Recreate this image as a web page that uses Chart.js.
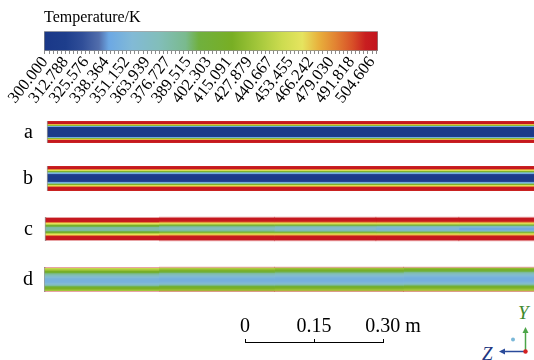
<!DOCTYPE html>
<html>
<head>
<meta charset="utf-8">
<script src="https://cdn.jsdelivr.net/npm/chart.js@4.4.1/dist/chart.umd.min.js"></script>
<style>
  html, body { margin: 0; padding: 0; background: #fff; }
  body { width: 534px; height: 360px; position: relative; overflow: hidden; }
  .box { position: absolute; }
</style>
</head>
<body>
<div class="box" style="left:0;top:0;width:534px;height:120px"><canvas id="colorbarChart"></canvas></div>
<div class="box" style="left:0;top:110px;width:534px;height:190px"><canvas id="stripChart"></canvas></div>
<div class="box" style="left:200px;top:300px;width:240px;height:60px"><canvas id="scaleChart"></canvas></div>
<svg class="box" style="left:470px;top:300px" width="64" height="60">
  <text x="48" y="19" fill="#3f8a2e" font-family="Liberation Serif, serif" font-style="italic" font-size="19">Y</text>
  <line x1="55.5" y1="52" x2="55.5" y2="32" stroke="#4ca548" stroke-width="1.5"/>
  <path d="M52.5 33 L55.5 27 L58.5 33 Z" fill="#4ca548"/>
  <text x="12" y="60" fill="#22367f" font-family="Liberation Serif, serif" font-style="italic" font-size="19">Z</text>
  <line x1="55" y1="51.5" x2="34" y2="51.5" stroke="#2a4a9a" stroke-width="1.5"/>
  <path d="M35 48.5 L29 51.5 L35 54.5 Z" fill="#2a4a9a"/>
  <circle cx="55.5" cy="51.5" r="2.2" fill="#d42020"/>
  <circle cx="43" cy="39.5" r="2" fill="#7ab8d8"/>
</svg>
<script>
const SERIF = "'Liberation Serif', 'Times New Roman', serif";

// colour legend
const tempMin = 299.4;
const tempMax = 508.35;
const tickLabels = ['300.000', '312.788', '325.576', '338.364', '351.152', '363.939', '376.727', '389.515',
  '402.303', '415.091', '427.879', '440.667', '453.455', '466.242', '479.030', '491.818', '504.606'];
const cmapTemps = [299.5, 313, 323.3, 333.8, 340, 354.6, 371.3, 388, 396.3, 417, 434, 448.5, 461, 471.4, 481.9, 492.3, 500.6, 508.2];
const cmapColors = [
  [26, 56, 136], [30, 62, 140], [48, 78, 152], [82, 110, 172], [108, 168, 228], [130, 186, 214],
  [130, 190, 186], [122, 186, 142], [112, 176, 62], [120, 174, 36], [165, 200, 60], [205, 220, 80],
  [230, 228, 95], [232, 176, 60], [226, 130, 50], [216, 80, 40], [200, 30, 32], [195, 20, 30]
];

// tube length and scale bar (m)
const tubeLength = 1.063;
const scaleTicks = [0, 0.15, 0.30];
const scaleLabels = ['0', '0.15', '0.30 m'];

// strips, temperatures per row from top wall to bottom wall (K)
const stripNames = ['a', 'b', 'c', 'd'];
const boundsA = [0.0065, tubeLength];
const profileA = [500, 505, 505, 470, 425, 345, 308, 305, 305, 305, 305, 305, 305, 305, 305, 308, 345, 425, 470, 505, 505, 500];

const boundsB = [0.0065, tubeLength];
const profileB = [500, 505, 505, 480, 455, 420, 380, 345, 318, 310, 306, 306, 306, 306, 310, 318, 345, 380, 420, 455, 480, 502, 505, 505, 500];

const boundsC = [0.002, 0.25, 0.5, 0.72, 0.9, tubeLength];
const profileC1 = [505, 505, 505, 505, 502, 482, 462, 440, 412, 395, 382, 378, 378, 382, 395, 412, 440, 462, 482, 502, 505, 505, 505, 505];
const profileC2 = [505, 505, 505, 505, 502, 482, 462, 440, 410, 390, 376, 370, 370, 376, 390, 410, 440, 462, 482, 502, 505, 505, 505, 505];
const profileC3 = [505, 505, 505, 505, 502, 482, 462, 440, 408, 385, 368, 360, 360, 366, 385, 408, 440, 462, 482, 502, 505, 505, 505, 505];
const profileC4 = [505, 505, 505, 505, 502, 482, 462, 440, 405, 380, 360, 352, 350, 358, 380, 405, 440, 462, 482, 502, 505, 505, 505, 505];
const profileC5 = [505, 505, 505, 505, 502, 482, 462, 440, 402, 374, 354, 344, 340, 348, 374, 402, 440, 462, 482, 502, 505, 505, 505, 505];

const boundsD = [0, 0.25, 0.5, 0.78, tubeLength];
const profileD1 = [505, 445, 436, 428, 414, 402, 390, 380, 372, 362, 355, 350, 348, 347, 348, 350, 355, 364, 380, 394, 410, 418, 425, 432, 505];
const profileD2 = [505, 438, 430, 420, 408, 396, 384, 374, 366, 358, 352, 348, 346, 346, 347, 350, 356, 366, 384, 398, 410, 418, 424, 432, 505];
const profileD3 = [505, 432, 424, 415, 404, 392, 380, 370, 362, 355, 350, 347, 346, 346, 347, 350, 357, 368, 386, 400, 412, 420, 426, 435, 505];
const profileD4 = [505, 428, 418, 408, 398, 386, 374, 365, 358, 352, 348, 346, 345, 345, 347, 351, 358, 370, 390, 404, 414, 422, 428, 438, 505];

const stripBounds = [boundsA, boundsB, boundsC, boundsD];
const stripProfiles = [[profileA], [profileB], [profileC1, profileC2, profileC3, profileC4, profileC5], [profileD1, profileD2, profileD3, profileD4]];
const stripHasRim = [false, false, true, true];
const gapRows = [23, 26, 26];

function rgb(c, alpha) {
  return `rgba(${Math.round(c[0])}, ${Math.round(c[1])}, ${Math.round(c[2])}, ${alpha})`;
}

function tempColor(t, alpha = 1) {
  if (t <= cmapTemps[0]) return rgb(cmapColors[0], alpha);
  for (let i = 1; i < cmapTemps.length; i++) {
    if (t <= cmapTemps[i]) {
      const f = (t - cmapTemps[i - 1]) / (cmapTemps[i] - cmapTemps[i - 1]);
      const a = cmapColors[i - 1], b = cmapColors[i];
      return rgb([a[0] + (b[0] - a[0]) * f, a[1] + (b[1] - a[1]) * f, a[2] + (b[2] - a[2]) * f], alpha);
    }
  }
  return rgb(cmapColors[cmapColors.length - 1], alpha);
}

function createColorbarChart() {
  const majors = tickLabels.map(Number);
  const step = (majors[1] - majors[0]) / 5;
  const tickValues = [];
  const tickText = [];
  for (let v = majors[0]; v < tempMax; v += step) {
    const k = majors.findIndex(m => Math.abs(m - v) < 0.01);
    tickValues.push(v);
    tickText.push(k >= 0 ? tickLabels[k] : '');
  }

  new Chart(document.getElementById('colorbarChart'), {
    type: 'bar',
    data: {
      labels: ['Temperature'],
      datasets: [{
        data: [[tempMin, tempMax]],
        backgroundColor: (ctx) => {
          const area = ctx.chart.chartArea;
          if (!area) return 'rgba(0,0,0,0)';
          const g = ctx.chart.ctx.createLinearGradient(area.left, 0, area.right, 0);
          cmapTemps.forEach((t, i) => g.addColorStop((t - tempMin) / (tempMax - tempMin), rgb(cmapColors[i], 1)));
          return g;
        },
        borderColor: '#8a8a8a',
        borderWidth: 1,
        borderSkipped: false,
        barPercentage: 1,
        categoryPercentage: 1
      }]
    },
    options: {
      indexAxis: 'y',
      responsive: true,
      maintainAspectRatio: false,
      animation: false,
      layout: { padding: { left: 44, right: 156, top: 0, bottom: 9 } },
      plugins: {
        legend: { display: false },
        tooltip: { enabled: false },
        title: {
          display: true,
          text: 'Temperature/K',
          align: 'start',
          color: '#000',
          font: { family: SERIF, size: 16, weight: 'normal' },
          padding: { top: 8, bottom: 4 }
        }
      },
      scales: {
        y: { display: false },
        x: {
          type: 'linear',
          min: tempMin,
          max: tempMax,
          afterBuildTicks: (scale) => { scale.ticks = tickValues.map(v => ({ value: v })); },
          afterFit: (scale) => { scale.height = 60; },
          border: { display: false },
          grid: { drawOnChartArea: false, tickLength: 3, color: '#8a8a8a' },
          ticks: {
            autoSkip: false,
            minRotation: 52,
            maxRotation: 52,
            padding: -1,
            color: '#000',
            font: { family: SERIF, size: 16.5 },
            callback: (value, index) => tickText[index]
          }
        }
      }
    }
  });
}

function createStripChart() {
  const rows = [];
  const rowText = [];
  stripNames.forEach((name, s) => {
    const n = stripProfiles[s][0].length;
    for (let i = 0; i < n; i++) {
      rows.push({ s, i, n });
      rowText.push(i === Math.floor(n / 2) ? name : '');
    }
    if (s < gapRows.length) {
      for (let g = 0; g < gapRows[s]; g++) {
        rows.push(null);
        rowText.push('');
      }
    }
  });

  const datasets = [];
  stripNames.forEach((name, s) => {
    const bounds = stripBounds[s];
    stripProfiles[s].forEach((profile, k) => {
      datasets.push({
        label: name + (k + 1),
        data: rows.map(r => (r && r.s === s ? [bounds[k], bounds[k + 1]] : null)),
        backgroundColor: rows.map(r => {
          if (!r || r.s !== s) return 'rgba(0,0,0,0)';
          const rim = stripHasRim[s] && (r.i === 0 || r.i === r.n - 1);
          return tempColor(profile[r.i], rim ? 0.4 : 1);
        }),
        borderColor: '#9a9a9a',
        borderWidth: k === 0 ? { left: 1, top: 0, right: 0, bottom: 0 } : 0,
        borderSkipped: false,
        inflateAmount: 0.3,
        grouped: false,
        barPercentage: 1,
        categoryPercentage: 1
      });
    });
  });

  new Chart(document.getElementById('stripChart'), {
    type: 'bar',
    data: { labels: rowText, datasets },
    options: {
      indexAxis: 'y',
      responsive: true,
      maintainAspectRatio: false,
      animation: false,
      layout: { padding: { left: 0, right: 0, top: 11, bottom: 8 } },
      plugins: { legend: { display: false }, tooltip: { enabled: false } },
      scales: {
        x: { type: 'linear', display: false, min: 0, max: tubeLength },
        y: {
          afterFit: (scale) => {
            scale.width = 44;
            scale.paddingTop = 0;
            scale.paddingBottom = 0;
          },
          grid: { display: false, drawTicks: false },
          border: { display: false },
          ticks: {
            autoSkip: false,
            padding: 11,
            color: '#000',
            font: { family: SERIF, size: 20 },
            callback: (value, index) => rowText[index]
          }
        }
      }
    }
  });
}

function createScaleBarChart() {
  new Chart(document.getElementById('scaleChart'), {
    type: 'scatter',
    data: { datasets: [{ data: [] }] },
    options: {
      responsive: true,
      maintainAspectRatio: false,
      animation: false,
      layout: { padding: { left: 45, right: 57, top: 10, bottom: 8 } },
      plugins: { legend: { display: false }, tooltip: { enabled: false } },
      scales: {
        y: { display: false },
        x: {
          type: 'linear',
          position: 'top',
          min: scaleTicks[0],
          max: scaleTicks[scaleTicks.length - 1],
          afterBuildTicks: (scale) => { scale.ticks = scaleTicks.map(v => ({ value: v })); },
          afterFit: (scale) => { scale.height = 32; },
          border: { display: true, color: '#000', width: 1 },
          grid: { drawOnChartArea: false, tickLength: 3, color: '#000' },
          ticks: {
            autoSkip: false,
            maxRotation: 0,
            padding: 0,
            color: '#000',
            font: { family: SERIF, size: 20 },
            callback: (value, index) => (index === scaleLabels.length - 1 ? '\u2002\u2002' : '') + scaleLabels[index]
          }
        }
      }
    }
  });
}

createColorbarChart();
createStripChart();
createScaleBarChart();
</script>
</body>
</html>
